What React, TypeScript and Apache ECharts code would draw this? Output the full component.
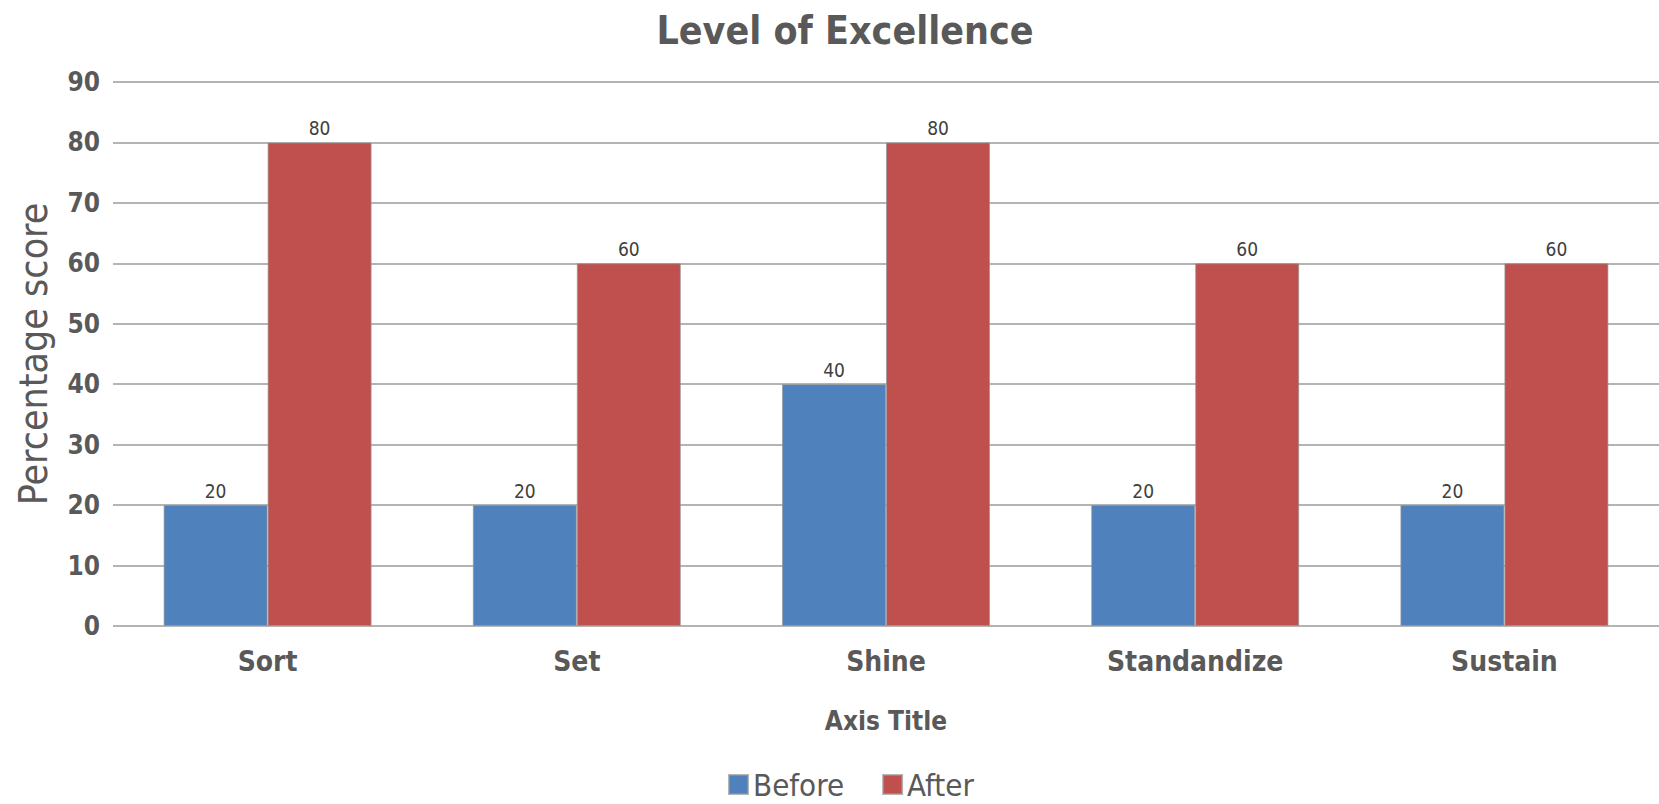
import React, { useEffect, useRef } from "react";
import * as echarts from "echarts";

// Chart content
const chartTitle = "Level of Excellence";
const categories = ["Sort", "Set", "Shine", "Standandize", "Sustain"];
const beforeValues = [20, 20, 40, 20, 20];
const afterValues = [80, 60, 80, 60, 60];
const seriesNames = ["Before", "After"];
const xAxisTitle = "Axis Title";
const yAxisTitle = "Percentage score";
const yMin = 0;
const yMax = 90;
const yStep = 10;

const FONT = "'DejaVu Sans Condensed', 'DejaVu Sans', sans-serif";
const TEXT_GREY = "#595959";
const BLUE = "#4F81BD";
const RED = "#C0504D";

export default function App() {
  const ref = useRef<HTMLDivElement>(null);

  useEffect(() => {
    if (!ref.current) return;
    const chart = echarts.init(ref.current, undefined, { renderer: "svg" });

    const barLabel = {
      show: true,
      position: "top" as const,
      distance: 5,
      fontFamily: FONT,
      fontSize: 19,
      color: "#404040",
    };

    chart.setOption({
      animation: false,
      backgroundColor: "#ffffff",
      textStyle: { fontFamily: FONT },
      title: {
        text: chartTitle,
        left: 840,
        top: 6,
        textAlign: "center",
        textStyle: {
          fontFamily: FONT,
          fontSize: 39,
          fontWeight: "bold",
          color: TEXT_GREY,
        },
      },
      legend: {
        data: seriesNames,
        left: 728,
        top: 769,
        padding: 0,
        icon: "rect",
        itemWidth: 19,
        itemHeight: 19,
        itemGap: 38,
        textStyle: {
          fontFamily: FONT,
          fontSize: 31,
          lineHeight: 30,
          color: TEXT_GREY,
          padding: [0, 0, 0, 0],
        },
      },
      grid: {
        left: 113,
        right: -16,
        top: 82,
        bottom: 178,
        containLabel: false,
      },
      xAxis: {
        type: "category",
        data: categories,
        axisLine: { show: false },
        axisTick: { show: false },
        axisLabel: {
          fontFamily: FONT,
          fontSize: 28,
          fontWeight: "bold",
          color: TEXT_GREY,
          margin: 21,
        },
        name: xAxisTitle,
        nameLocation: "middle",
        nameGap: 82,
        nameTextStyle: {
          fontFamily: FONT,
          fontSize: 26,
          fontWeight: "bold",
          color: TEXT_GREY,
        },
      },
      yAxis: {
        type: "value",
        min: yMin,
        max: yMax,
        interval: yStep,
        axisLine: { show: false },
        axisTick: { show: false },
        axisLabel: {
          fontFamily: FONT,
          fontSize: 26,
          fontWeight: "bold",
          color: TEXT_GREY,
          margin: 13,
        },
        splitLine: {
          lineStyle: { color: "#b4b4b4", width: 2 },
        },
        name: yAxisTitle,
        nameLocation: "middle",
        nameRotate: 90,
        nameGap: 60,
        nameTextStyle: {
          fontFamily: FONT,
          fontSize: 39,
          color: TEXT_GREY,
        },
      },
      series: [
        {
          name: seriesNames[0],
          type: "bar",
          data: beforeValues,
          barWidth: 104,
          barGap: "0%",
          itemStyle: { color: BLUE, borderColor: "rgba(150,150,150,0.7)", borderWidth: 1 },
          label: barLabel,
        },
        {
          name: seriesNames[1],
          type: "bar",
          data: afterValues,
          barWidth: 104,
          barGap: "0%",
          itemStyle: { color: RED, borderColor: "rgba(150,150,150,0.7)", borderWidth: 1 },
          label: barLabel,
        },
      ],
    });

    return () => chart.dispose();
  }, []);

  return (
    <div
      ref={ref}
      style={{ position: "absolute", left: 0, top: 0, width: 1659, height: 804 }}
    />
  );
}
